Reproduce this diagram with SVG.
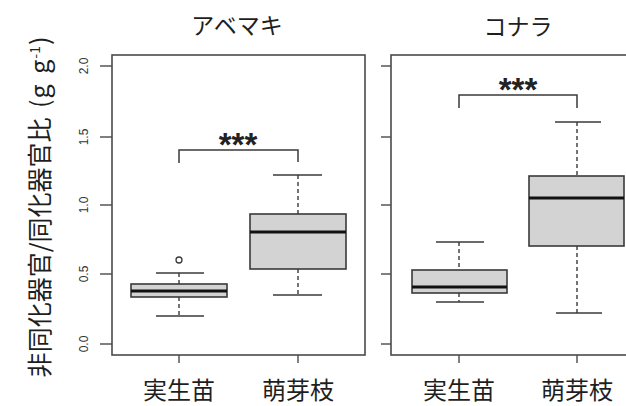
<svg xmlns="http://www.w3.org/2000/svg" width="626" height="406" viewBox="0 0 626 406">
<style>
.frame{fill:none;stroke:#4a4a4a;stroke-width:1.6}
.tick{stroke:#4a4a4a;stroke-width:1.4}
.box{fill:#d3d3d3;stroke:#3a3a3a;stroke-width:1.6}
.med{stroke:#111;stroke-width:3.2}
.cap{stroke:#3a3a3a;stroke-width:1.5}
.wh{stroke:#3a3a3a;stroke-width:1.4;stroke-dasharray:4 3}
.br{fill:none;stroke:#3a3a3a;stroke-width:1.5}
.jp{font-family:"Noto Sans CJK JP","Noto Sans",sans-serif;fill:#1e1e1e}
.num{font-family:"Liberation Sans",Arial,sans-serif;fill:#333;font-size:12px;text-anchor:middle}
.star{font-family:"Liberation Sans",Arial,sans-serif;font-weight:bold;font-size:33px;fill:#222;text-anchor:middle}
</style>
<rect width="626" height="406" fill="#fff"/>
<g id="y-axis-label">
<text class="jp" font-size="25" text-anchor="middle" transform="translate(49,207) rotate(-90)">非同化器官/同化器官比<tspan word-spacing="3" letter-spacing="1"> (g g</tspan><tspan font-size="14" dy="-9">-1</tspan><tspan dy="9" dx="1">)</tspan></text>
</g>
<g id="panel-abemaki">
<text class="jp" font-size="23" x="237" y="34" text-anchor="middle">アベマキ</text>
<rect class="frame" x="112" y="55" width="253" height="300"/>
<g class="tick">
<line x1="100" y1="66" x2="112" y2="66"/><line x1="100" y1="137" x2="112" y2="137"/><line x1="100" y1="205" x2="112" y2="205"/><line x1="100" y1="274" x2="112" y2="274"/><line x1="100" y1="344" x2="112" y2="344"/>
<line x1="179" y1="355" x2="179" y2="363"/><line x1="298" y1="355" x2="298" y2="363"/>
</g>
<text class="num" transform="translate(88,66) rotate(-90)">2.0</text>
<text class="num" transform="translate(88,137) rotate(-90)">1.5</text>
<text class="num" transform="translate(88,205) rotate(-90)">1.0</text>
<text class="num" transform="translate(88,274) rotate(-90)">0.5</text>
<text class="num" transform="translate(88,344) rotate(-90)">0.0</text>
<text class="jp" font-size="24" x="179" y="399" text-anchor="middle">実生苗</text>
<text class="jp" font-size="24" x="298" y="399" text-anchor="middle">萌芽枝</text>
</g>
<g id="box-abemaki-seedling">
<line class="wh" x1="179" y1="273" x2="179" y2="284"/><line class="wh" x1="179" y1="297" x2="179" y2="316"/>
<line class="cap" x1="156" y1="273" x2="204" y2="273"/><line class="cap" x1="156" y1="316" x2="204" y2="316"/>
<rect class="box" x="131" y="284" width="96" height="13"/>
<line class="med" x1="131" y1="291" x2="227" y2="291"/>
<circle cx="179" cy="260" r="3" fill="none" stroke="#3a3a3a" stroke-width="1.3"/>
</g>
<g id="box-abemaki-sprout">
<line class="wh" x1="298" y1="175" x2="298" y2="214"/><line class="wh" x1="298" y1="269" x2="298" y2="295"/>
<line class="cap" x1="273" y1="175" x2="322" y2="175"/><line class="cap" x1="273" y1="295" x2="322" y2="295"/>
<rect class="box" x="250" y="214" width="96" height="55"/>
<line class="med" x1="250" y1="232" x2="346" y2="232"/>
</g>
<g id="panel-konara">
<text class="jp" font-size="23" x="518" y="35" text-anchor="middle">コナラ</text>
<rect class="frame" x="391" y="55" width="250" height="300"/>
<g class="tick">
<line x1="381" y1="66" x2="391" y2="66"/><line x1="381" y1="137" x2="391" y2="137"/><line x1="381" y1="205" x2="391" y2="205"/><line x1="381" y1="274" x2="391" y2="274"/><line x1="381" y1="344" x2="391" y2="344"/>
<line x1="459" y1="355" x2="459" y2="363"/><line x1="577" y1="355" x2="577" y2="363"/>
</g>
<text class="jp" font-size="24" x="459" y="399" text-anchor="middle">実生苗</text>
<text class="jp" font-size="24" x="577" y="399" text-anchor="middle">萌芽枝</text>
</g>
<g id="box-konara-seedling">
<line class="wh" x1="459" y1="242" x2="459" y2="270"/><line class="wh" x1="459" y1="293" x2="459" y2="302"/>
<line class="cap" x1="436" y1="242" x2="484" y2="242"/><line class="cap" x1="436" y1="302" x2="484" y2="302"/>
<rect class="box" x="412" y="270" width="95" height="23"/>
<line class="med" x1="412" y1="287" x2="507" y2="287"/>
</g>
<g id="box-konara-sprout">
<line class="wh" x1="577" y1="122" x2="577" y2="176"/><line class="wh" x1="577" y1="246" x2="577" y2="313"/>
<line class="cap" x1="555" y1="122" x2="601" y2="122"/><line class="cap" x1="556" y1="313" x2="602" y2="313"/>
<rect class="box" x="529" y="176" width="95" height="70"/>
<line class="med" x1="529" y1="198" x2="624" y2="198"/>
</g>
<g id="connectors">
<path class="br" d="M179,163 V150 H298 V162"/>
<text class="star" x="238" y="156">***</text>
<path class="br" d="M459,108 V95 H577 V108"/>
<text class="star" x="518" y="101">***</text>
</g>
</svg>
